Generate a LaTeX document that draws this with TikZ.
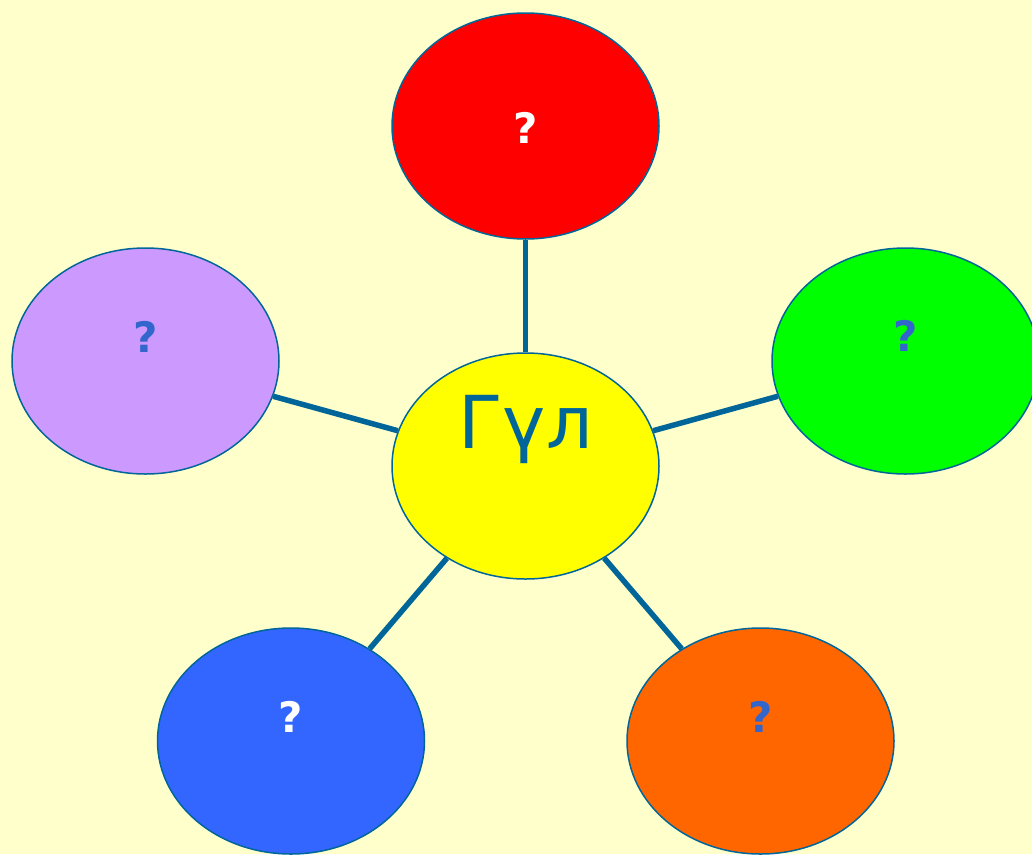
\documentclass[tikz,border=0pt]{standalone}
\usepackage{fontspec}
\setmainfont{DejaVu Sans}
\usetikzlibrary{shapes.geometric}
\definecolor{bg}{HTML}{FFFFCC}
\definecolor{edge}{HTML}{006699}
\definecolor{qblue}{HTML}{3366CC}
\definecolor{cyellow}{RGB}{255,255,0}
\definecolor{cred}{RGB}{255,0,0}
\definecolor{cgreen}{RGB}{0,255,0}
\definecolor{cpurple}{HTML}{CC99FF}
\definecolor{cblue}{HTML}{3366FF}
\definecolor{corange}{HTML}{FF6600}
\tikzset{
  blob/.style={ellipse, draw=edge, line width=1.5pt, minimum width=267pt, minimum height=226pt, inner sep=0pt},
  link/.style={draw=edge, line width=5.5pt},
  qmark/.style={anchor=base, font=\fontsize{42}{46}\selectfont\bfseries, inner sep=0pt},
}
\begin{document}
\begin{tikzpicture}[x=1pt,y=-1pt]
\useasboundingbox (0,0) rectangle (1032,854);
\clip (0,0) rectangle (1032,854);
\fill[bg] (0,0) rectangle (1032,854);
\node[blob, fill=cyellow] (c) at (525.5,466) {};
\node[blob, fill=cred] (r) at (525.5,126) {};
\node[blob, fill=cpurple] (p) at (145.5,361) {};
\node[blob, fill=cgreen] (g) at (905.5,361) {};
\node[blob, fill=cblue] (b) at (291,741) {};
\node[blob, fill=corange] (o) at (760.5,741) {};
\draw[link] (c) -- (r);
\draw[link] (c) -- (p);
\draw[link] (c) -- (g);
\draw[link] (c) -- (b);
\draw[link] (c) -- (o);
\node[anchor=base, inner sep=0pt, text=edge, font=\fontsize{73}{76}\selectfont] (tc) at (525.5,448) {Гүл};
\node[qmark, text=white] (tr) at (525.5,143) {?};
\node[qmark, text=qblue] (tp) at (145.5,352) {?};
\node[qmark, text=qblue] (tg) at (905.5,351) {?};
\node[qmark, text=white] (tb) at (291,732) {?};
\node[qmark, text=qblue] (to) at (760.5,732) {?};
\end{tikzpicture}
\end{document}
